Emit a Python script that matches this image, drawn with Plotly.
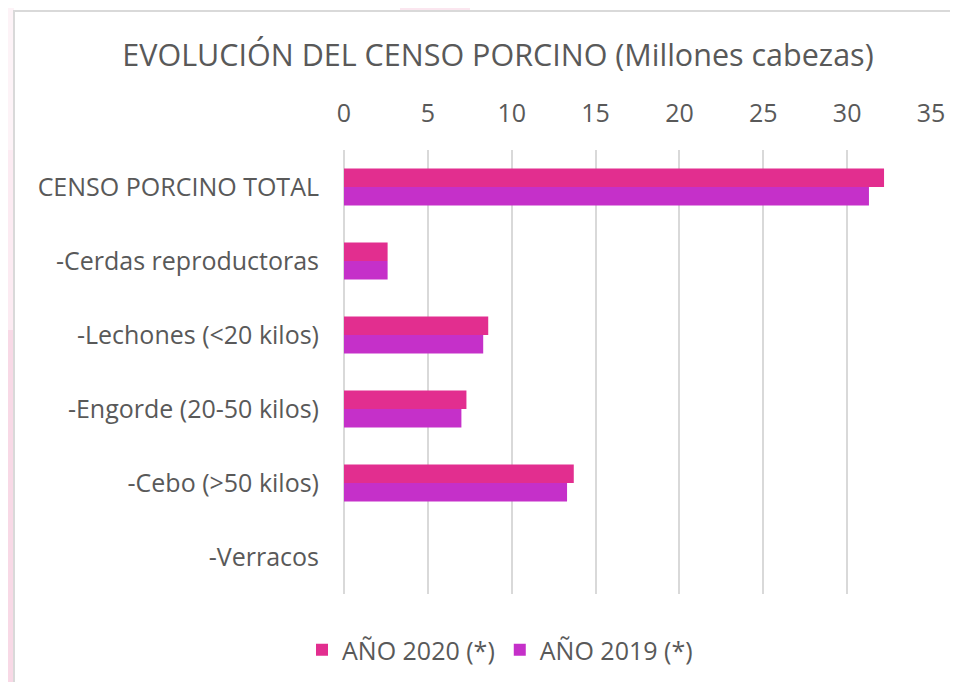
import plotly.graph_objects as go

categories = ["CENSO PORCINO TOTAL", "-Cerdas reproductoras", "-Lechones (<20 kilos)",
              "-Engorde (20-50 kilos)", "-Cebo (>50 kilos)", "-Verracos"]
values_2020 = [32.2, 2.6, 8.6, 7.3, 13.7, 0.0]
values_2019 = [31.3, 2.6, 8.3, 7.0, 13.3, 0.0]
series_names = ["AÑO 2020 (*)", "AÑO 2019 (*)"]
x_ticks = [0, 5, 10, 15, 20, 25, 30, 35]

C2020 = "#E22E8F"
C2019 = "#C530C9"
TXT = "#595959"
GRID = "#d9d9d9"
FONT = "Open Sans, sans-serif"

fig = go.Figure()
fig.add_trace(go.Bar(y=categories, x=values_2020, name=series_names[0], orientation="h",
                     marker=dict(color=C2020, line=dict(width=0))))
fig.add_trace(go.Bar(y=categories, x=values_2019, name=series_names[1], orientation="h",
                     marker=dict(color=C2019, line=dict(width=0))))

# page has an 8px body margin, so figure coordinates = reference coordinates - 8
OFF = 8
W, H = 958 - OFF, 682 - OFF
L, T = 344 - OFF, 150 - OFF
R = W - (931 - OFF)
B = H - (594 - OFF)
pw, ph = W - L - R, H - T - B

def px(x):
    return (x - OFF - L) / pw

def py(y):
    return 1 - (y - OFF - T) / ph

shapes = [
    dict(type="rect", xref="paper", yref="paper", x0=px(0), x1=px(14), y0=py(330), y1=py(150),
         fillcolor="#fcebf2", line=dict(width=0), layer="below"),
    dict(type="rect", xref="paper", yref="paper", x0=px(0), x1=px(14), y0=py(700), y1=py(330),
         fillcolor="#f8d9e6", line=dict(width=0), layer="below"),
    dict(type="rect", xref="paper", yref="paper", x0=px(0), x1=px(14), y0=py(150), y1=py(0),
         fillcolor="#fdf3f7", line=dict(width=0), layer="below"),
    dict(type="rect", xref="paper", yref="paper", x0=px(400), x1=px(470), y0=py(11), y1=py(0),
         fillcolor="#fbe6ef", line=dict(width=0), layer="below"),
    dict(type="rect", xref="paper", yref="paper", x0=px(14), x1=px(975), y0=py(700), y1=py(11),
         fillcolor="rgba(0,0,0,0)", line=dict(color=GRID, width=2), layer="below"),
]

fig.update_layout(
    width=W, height=H,
    margin=dict(l=L, r=R, t=T, b=B),
    paper_bgcolor="white", plot_bgcolor="white",
    barmode="group", bargap=0.5, bargroupgap=0,
    font=dict(family=FONT, color=TXT, size=25),
    title=dict(text="EVOLUCIÓN DEL CENSO PORCINO (Millones cabezas)", xref="container",
               x=(498 - OFF) / W, xanchor="center", yref="container", y=1 - (55 - OFF) / H,
               yanchor="middle", font=dict(family=FONT, size=30.5, color=TXT)),
    xaxis=dict(side="top", range=[0, 35], tickvals=x_ticks, ticktext=[str(v) for v in x_ticks],
               showgrid=True, gridcolor=GRID, gridwidth=2,
               zeroline=True, zerolinecolor=GRID, zerolinewidth=2,
               showline=False, ticklabelstandoff=22, tickfont=dict(size=25, color=TXT)),
    yaxis=dict(autorange="reversed", showgrid=False, showline=False, zeroline=False,
               ticklabelstandoff=24, tickfont=dict(size=25, color=TXT)),
    legend=dict(orientation="h", x=(500 - OFF) / W, xanchor="center", xref="container",
                y=1 - (650 - OFF) / H, yref="container", yanchor="middle",
                font=dict(size=25, color=TXT), itemwidth=30, traceorder="normal"),
    shapes=shapes,
    showlegend=True,
)

fig.write_html("out.html")
